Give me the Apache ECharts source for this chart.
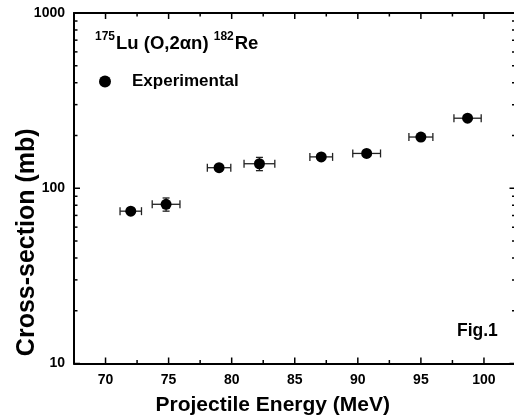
<!DOCTYPE html>
<html><head><meta charset="utf-8">
<script src="https://cdn.jsdelivr.net/npm/echarts@6/dist/echarts.min.js"></script>
<style>html,body{margin:0;padding:0;background:#fff}#c{width:514px;height:417px}</style>
</head><body><div id="c"></div>
<script>
// Data
const energy = [72.0, 74.8, 79.0, 82.2, 87.1, 90.7, 95.0, 98.7];
const crossSection = [74, 81, 131, 138, 151, 158, 196, 251];
const energyErr = [0.85, 1.1, 0.93, 1.22, 0.9, 1.1, 0.95, 1.08];
const crossErr = [3, 7, 4, 12, 5, 6, 6, 8];
// Axis ticks
const xMajorTicks = [70, 75, 80, 85, 90, 95, 100];
const xMinorTicks = [72.5, 77.5, 82.5, 87.5, 92.5, 97.5];
const yMajorTicks = [10, 100, 1000];
const yMinorTicks = [20, 30, 40, 50, 60, 70, 80, 90, 200, 300, 400, 500, 600, 700, 800, 900];

const FONT = '"Liberation Sans", Arial, Helvetica, sans-serif';
const chart = echarts.init(document.getElementById('c'), null, {renderer: 'canvas'});

function xTickRenderer(len) {
  return function (params, api) {
    const cs = params.coordSys;
    const px = api.coord([api.value(0), 100])[0];
    const st = {stroke: '#000', lineWidth: 1.5};
    const b = cs.y + cs.height, t = cs.y;
    return {type: 'group', children: [
      {type: 'line', shape: {x1: px, y1: b, x2: px, y2: b - len}, style: st},
      {type: 'line', shape: {x1: px, y1: t, x2: px, y2: t + len}, style: st}
    ]};
  };
}
function yTickRenderer(len) {
  return function (params, api) {
    const cs = params.coordSys;
    const py = api.coord([80, api.value(1)])[1];
    const st = {stroke: '#000', lineWidth: 1.5};
    const l = cs.x, r = cs.x + cs.width;
    return {type: 'group', children: [
      {type: 'line', shape: {x1: l, y1: py, x2: l + len, y2: py}, style: st},
      {type: 'line', shape: {x1: r, y1: py, x2: r - len, y2: py}, style: st}
    ]};
  };
}

const errData = energy.map((e, i) => [e, crossSection[i], energyErr[i], crossErr[i]]);

const axisBase = {
  axisLine: {show: true, lineStyle: {color: '#000', width: 2}},
  axisTick: {show: false},
  splitLine: {show: false},
  minorTick: {show: false}
};

chart.setOption({
  animation: false,
  backgroundColor: '#fff',
  grid: {left: 74, top: 13, width: 441.5, height: 350.5, containLabel: false, outerBoundsMode: 'none'},
  title: [
    {
      left: 95, top: 31, padding: 0,
      text: '{sup|175}{b|Lu (O,2αn) }{sup|182}{b|Re}',
      textStyle: {
        rich: {
          b: {fontFamily: FONT, fontWeight: 'bold', fontSize: 18.5, color: '#000', lineHeight: 22, verticalAlign: 'bottom'},
          sup: {fontFamily: FONT, fontWeight: 'bold', fontSize: 12, color: '#000', lineHeight: 22, verticalAlign: 'top', padding: [0, 1, 0, 0]}
        }
      }
    },
    {
      left: 457, top: 322, padding: 0,
      text: 'Fig.1',
      textStyle: {fontFamily: FONT, fontWeight: 'bold', fontSize: 17.5, color: '#000'}
    }
  ],
  legend: {
    left: 94, top: 68,
    data: [{name: 'Experimental', icon: 'circle'}],
    itemWidth: 12, itemHeight: 12,
    textStyle: {fontFamily: FONT, fontWeight: 'bold', fontSize: 17, color: '#000', padding: [0, 0, 0, 16]}
  },
  xAxis: [
    Object.assign({}, axisBase, {
      type: 'value', position: 'bottom', min: 67.5, max: 102.5, interval: 2.5,
      axisLabel: {
        fontFamily: FONT, fontWeight: 'bold', fontSize: 14, color: '#000', margin: 10,
        formatter: v => (Math.abs(v % 5) < 1e-6 ? String(v) : '')
      },
      name: 'Projectile Energy (MeV)', nameLocation: 'middle', nameGap: 31, nameMoveOverlap: false,
      nameTextStyle: {fontFamily: FONT, fontWeight: 'bold', fontSize: 21, color: '#000', padding: [0, 44, 0, 0]}
    }),
    Object.assign({}, axisBase, {
      type: 'value', position: 'top', min: 67.5, max: 102.5, interval: 2.5,
      axisLabel: {show: false}
    })
  ],
  yAxis: [
    Object.assign({}, axisBase, {
      type: 'log', logBase: 10, min: 10, max: 1000, position: 'left',
      axisLabel: {fontFamily: FONT, fontWeight: 'bold', fontSize: 14, color: '#000', margin: 9,
                  formatter: v => String(v)},
      name: 'Cross-section (mb)', nameLocation: 'middle', nameGap: 34, nameRotate: 90, nameMoveOverlap: false,
      nameTextStyle: {fontFamily: FONT, fontWeight: 'bold', fontSize: 25, color: '#000', padding: [0, 108, 0, 0]}
    }),
    Object.assign({}, axisBase, {
      type: 'log', logBase: 10, min: 10, max: 1000, position: 'right',
      axisLabel: {show: false}
    })
  ],
  series: [
    {type: 'custom', name: 'xmaj', silent: true, clip: false,
     data: xMajorTicks.map(v => [v, 100]), encode: {x: 0, y: 1}, renderItem: xTickRenderer(6)},
    {type: 'custom', name: 'xmin', silent: true, clip: false,
     data: xMinorTicks.map(v => [v, 100]), encode: {x: 0, y: 1}, renderItem: xTickRenderer(3.5)},
    {type: 'custom', name: 'ymaj', silent: true, clip: false,
     data: yMajorTicks.map(v => [80, v]), encode: {x: 0, y: 1}, renderItem: yTickRenderer(6)},
    {type: 'custom', name: 'ymin', silent: true, clip: false,
     data: yMinorTicks.map(v => [80, v]), encode: {x: 0, y: 1}, renderItem: yTickRenderer(3.5)},
    {type: 'custom', name: 'err', silent: true,
     data: errData, encode: {x: 0, y: 1},
     renderItem: (p, api) => {
       const x = api.value(0), y = api.value(1), ex = api.value(2), ey = api.value(3);
       const l = api.coord([x - ex, y]), r = api.coord([x + ex, y]);
       const t = api.coord([x, y + ey]), b = api.coord([x, y - ey]);
       const st = {stroke: '#222', lineWidth: 1.3};
       const cw = 4, ch = 3.5;
       return {type: 'group', children: [
         {type: 'line', shape: {x1: l[0], y1: l[1], x2: r[0], y2: r[1]}, style: st},
         {type: 'line', shape: {x1: l[0], y1: l[1] - cw, x2: l[0], y2: l[1] + cw}, style: st},
         {type: 'line', shape: {x1: r[0], y1: r[1] - cw, x2: r[0], y2: r[1] + cw}, style: st},
         {type: 'line', shape: {x1: t[0], y1: t[1], x2: b[0], y2: b[1]}, style: st},
         {type: 'line', shape: {x1: t[0] - ch, y1: t[1], x2: t[0] + ch, y2: t[1]}, style: st},
         {type: 'line', shape: {x1: b[0] - ch, y1: b[1], x2: b[0] + ch, y2: b[1]}, style: st}
       ]};
     }},
    {type: 'scatter', name: 'Experimental',
     data: energy.map((e, i) => [e, crossSection[i]]),
     symbol: 'circle', symbolSize: 11, itemStyle: {color: '#000', opacity: 1}, z: 5}
  ]
});
</script></body></html>
